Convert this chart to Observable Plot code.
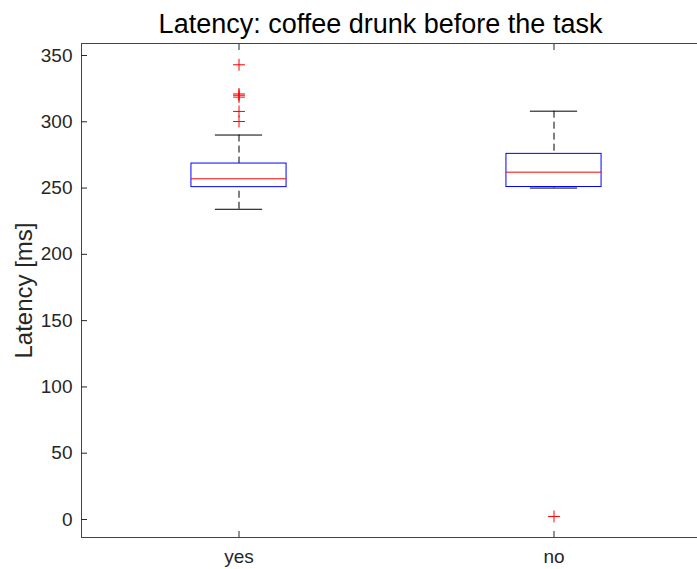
<!DOCTYPE html>
<html>
<head>
<meta charset="utf-8">
<script src="https://cdn.jsdelivr.net/npm/d3@7"></script>
<script src="https://cdn.jsdelivr.net/npm/@observablehq/plot@0.6"></script>
<style>
  html, body { margin: 0; padding: 0; background: #fff; overflow: hidden; }
  #chart { width: 697px; overflow: hidden; }
  #chart svg { max-width: none; display: block; }
</style>
</head>
<body>
<div id="chart"></div>
<script>
// Groups and box statistics (latency in ms)
const categories = ["yes", "no"];
const lowerWhisker = [234, 250];
const q1 = [250.7, 250.8];
const medians = [257, 262];
const q3 = [268.5, 275.8];
const upperWhisker = [290, 308];

// Points beyond the whiskers
const outlierGroups = ["yes", "yes", "yes", "yes", "yes", "yes", "no"];
const outlierValues = [343, 321, 320, 318.6, 307.8, 300.2, 2.3];

const yTicks = [0, 50, 100, 150, 200, 250, 300, 350];
const yDomain = [-13.58, 359.05];
const title = "Latency: coffee drunk before the task";
const yLabel = "Latency [ms]";

// groups sit at positions 1, 2, … on a continuous x axis
const xDomain = [0.5, categories.length + 0.5];
const xTicks = categories.map((_, i) => i + 1);
const boxHalf = 0.151;   // half box width, in position units
const capHalf = 0.075;   // half whisker-cap width

const boxes = categories.map((group, i) => ({
  pos: i + 1,
  lo: lowerWhisker[i],
  q1: q1[i],
  med: medians[i],
  q3: q3[i],
  hi: upperWhisker[i]
}));
const outliers = outlierValues.map((value, i) => ({pos: categories.indexOf(outlierGroups[i]) + 1, value}));

const axisColor = "#262626";
const lineColor = "#444";
const font = "'Liberation Sans', Arial, Helvetica, sans-serif";

const chart = Plot.plot({
  width: 697,
  height: 569,
  marginLeft: 81,
  marginRight: 0,
  marginTop: 43,
  marginBottom: 32,
  style: {fontFamily: font, background: "#fff"},
  x: {domain: xDomain, range: [81, 711], label: null},
  y: {domain: yDomain, label: null},
  marks: [
    // axes box: left, bottom and top edges
    Plot.ruleX([xDomain[0]], {stroke: lineColor, strokeWidth: 1}),
    Plot.ruleY(yDomain, {stroke: lineColor, strokeWidth: 1}),
    // tick labels and inward tick marks
    Plot.axisY(yTicks, {tickSize: 0, tickPadding: 9, fontSize: 19, color: axisColor, label: null}),
    Plot.axisY(yTicks, {tickSize: -6, tickFormat: () => "", color: axisColor, label: null}),
    Plot.axisX(xTicks, {anchor: "bottom", tickSize: 0, tickPadding: 12, fontSize: 19, color: axisColor, label: null,
      tickFormat: (d) => categories[d - 1]}),
    Plot.axisX(xTicks, {anchor: "bottom", tickSize: -6, tickFormat: () => "", color: axisColor, label: null}),
    Plot.axisX(xTicks, {anchor: "top", tickSize: -6, tickFormat: () => "", color: axisColor, label: null}),
    // dashed whiskers
    Plot.ruleX(boxes, {x: "pos", y1: "hi", y2: "q3", stroke: "black", strokeWidth: 1, strokeDasharray: "7,4"}),
    Plot.ruleX(boxes, {x: "pos", y1: "lo", y2: "q1", stroke: "black", strokeWidth: 1, strokeDasharray: "7,4"}),
    // whisker caps
    Plot.ruleY(boxes, {y: "hi", x1: (d) => d.pos - capHalf, x2: (d) => d.pos + capHalf, stroke: "black", strokeWidth: 1}),
    Plot.ruleY(boxes, {y: "lo", x1: (d) => d.pos - capHalf, x2: (d) => d.pos + capHalf, stroke: "black", strokeWidth: 1}),
    // boxes and medians
    Plot.rect(boxes, {x1: (d) => d.pos - boxHalf, x2: (d) => d.pos + boxHalf, y1: "q1", y2: "q3",
      fill: "none", stroke: "#0000ff", strokeWidth: 1}),
    Plot.ruleY(boxes, {y: "med", x1: (d) => d.pos - boxHalf, x2: (d) => d.pos + boxHalf, stroke: "#ff0000", strokeWidth: 1}),
    // outliers
    Plot.dot(outliers, {x: "pos", y: "value", symbol: "plus", r: 3.9, stroke: "#ff0000", strokeWidth: 1}),
    // title and axis label
    Plot.text([title], {frameAnchor: "top", lineAnchor: "middle", textAnchor: "middle", dx: -9, dy: -19, fontSize: 27, fill: "black"}),
    Plot.text([yLabel], {frameAnchor: "left", lineAnchor: "middle", textAnchor: "middle", rotate: -90, dx: -57, fontSize: 24, fill: axisColor})
  ]
});

document.getElementById("chart").appendChild(chart);
</script>
</body>
</html>
